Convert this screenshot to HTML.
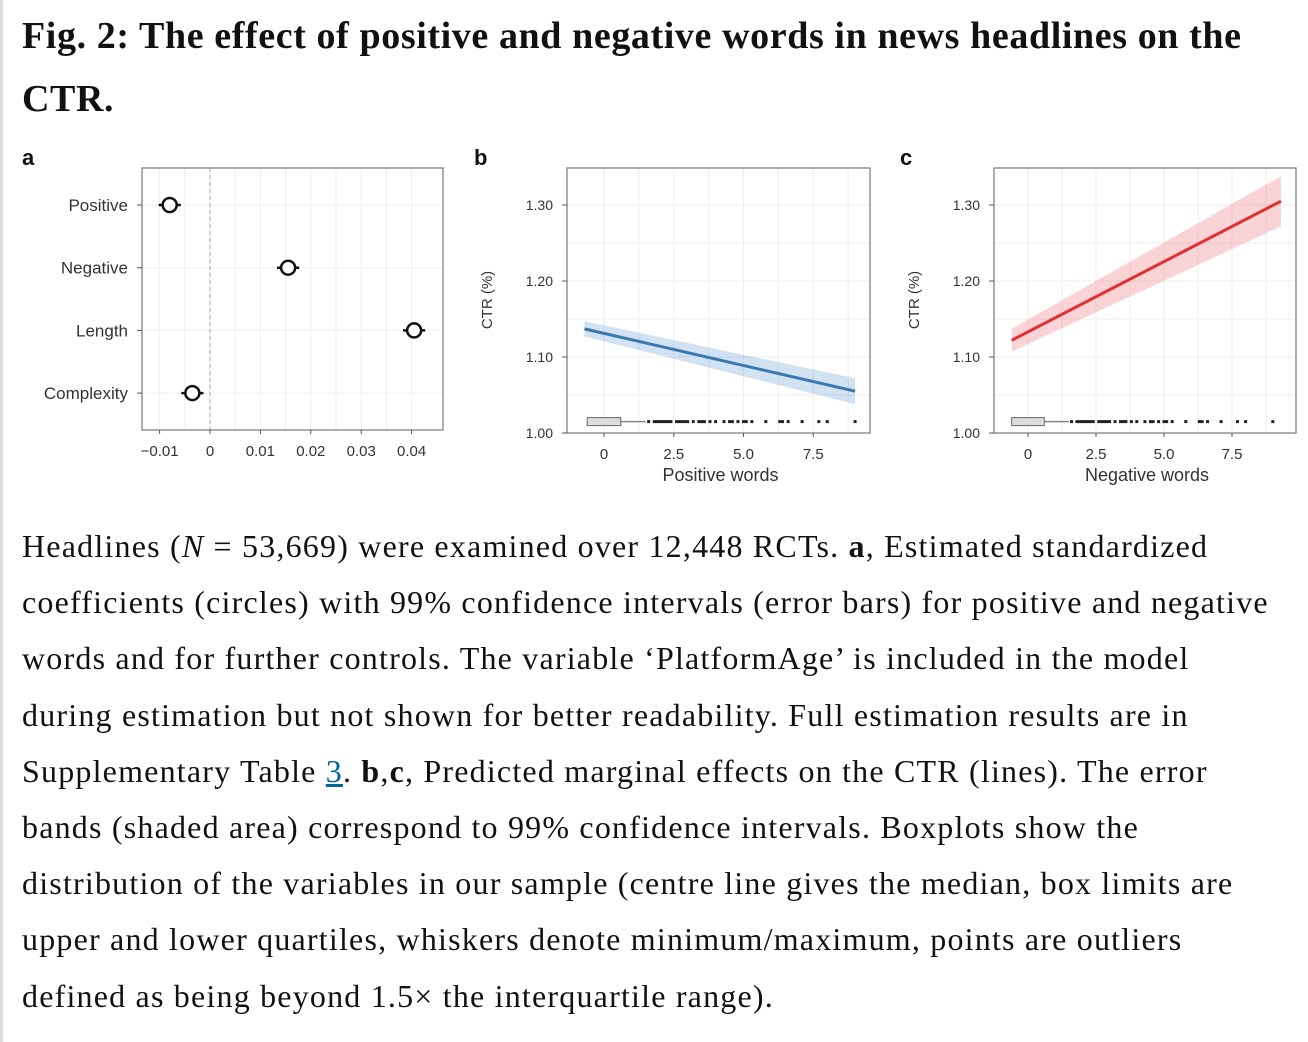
<!DOCTYPE html>
<html><head><meta charset="utf-8"><style>
body{margin:0;width:1308px;height:1042px;background:#fff;overflow:hidden;position:relative;font-family:"Liberation Serif",serif;color:#111}
#lb{position:absolute;left:0;top:0;width:3px;height:1042px;background:#ddd}
h1{position:absolute;left:22px;top:5px;margin:0;font-size:38px;line-height:63px;font-weight:bold;letter-spacing:0.6px;white-space:nowrap}
#cap{position:absolute;left:22px;top:518px;margin:0;font-size:32px;line-height:56.2px;white-space:nowrap;letter-spacing:1.2px}
#cap a{color:#069;text-decoration:underline}
svg{position:absolute;left:0;top:140px}
svg text{font-family:"Liberation Sans",sans-serif;fill:#333}
</style></head><body>
<div id="lb"></div>
<h1>Fig. 2: The effect of positive and negative words in news headlines on the<br>CTR.</h1>
<p id="cap">Headlines (<i>N</i> = 53,669) were examined over 12,448 RCTs. <b>a</b>, Estimated standardized<br>coefficients (circles) with 99% confidence intervals (error bars) for positive and negative<br>words and for further controls. The variable ‘PlatformAge’ is included in the model<br>during estimation but not shown for better readability. Full estimation results are in<br>Supplementary Table <a>3</a>. <b>b</b>,<b>c</b>, Predicted marginal effects on the CTR (lines). The error<br>bands (shaded area) correspond to 99% confidence intervals. Boxplots show the<br>distribution of the variables in our sample (centre line gives the median, box limits are<br>upper and lower quartiles, whiskers denote minimum/maximum, points are outliers<br>defined as being beyond 1.5× the interquartile range).</p>
<svg id="fig" width="1308" height="360"></svg>
<script>
// Panel a data
const coefLabels=["Positive","Negative","Length","Complexity"];
const coefValues=[-0.008,0.0155,0.0405,-0.0035];
const coefErr=[0.0022,0.0022,0.0022,0.0022];
const coefTicks=[-0.01,0,0.01,0.02,0.03,0.04];
const coefTickLabels=["−0.01","0","0.01","0.02","0.03","0.04"];
// Panel b data
const posX=[-0.7,9];
const posY=[1.137,1.055];
const posLo=[1.127,1.038];
const posHi=[1.147,1.072];
// Panel c data
const negX=[-0.6,9.3];
const negY=[1.122,1.305];
const negLo=[1.107,1.272];
const negHi=[1.137,1.338];
const ctrTicks=[1.00,1.10,1.20,1.30];
const ctrTickLabels=["1.00","1.10","1.20","1.30"];
const wordTicks=[0,2.5,5.0,7.5];
const wordTickLabels=["0","2.5","5.0","7.5"];
const outliers=[1.6,1.8,1.9,2.0,2.1,2.2,2.3,2.4,2.6,2.7,2.8,2.9,3.0,3.2,3.4,3.5,3.6,3.8,4.0,4.3,4.5,4.6,4.8,5.0,5.1,5.3,5.8,6.3,6.4,6.6,7.1,7.7,8.0,9.0];
const boxStats=[-0.6,-0.6,0.6,1.5];

const svg=document.getElementById('fig');
const NS='http://www.w3.org/2000/svg';
function mk(t,a,p){const e=document.createElementNS(NS,t);for(const k in a)e.setAttribute(k,a[k]);(p||svg).appendChild(e);return e;}
const T=140;

(function(){
  const x0=142,x1=443,y0=168-T,y1=430-T;
  const sx=v=>210+v*5040;
  const rowY=i=>205-T+i*62.7;
  const g=mk('g',{});
  const lab=mk('text',{x:22,y:165-T,'font-size':22,'font-weight':'bold',style:'fill:#111'},g);lab.textContent='a';
  [-0.005,0.005,0.015,0.025,0.035].concat(coefTicks).forEach(v=>mk('line',{x1:sx(v),x2:sx(v),y1:y0,y2:y1,stroke:'#eee','stroke-width':1},g));
  coefLabels.forEach((l,i)=>mk('line',{x1:x0,x2:x1,y1:rowY(i),y2:rowY(i),stroke:'#eee'},g));
  mk('line',{x1:sx(0),x2:sx(0),y1:y0,y2:y1,stroke:'#aaa','stroke-dasharray':'4,3'},g);
  const fr=mk('rect',{x:x0,y:y0,width:x1-x0,height:y1-y0,fill:'none',stroke:'#777','stroke-width':1.2},g);
  
  coefTicks.forEach((v,i)=>{mk('line',{x1:sx(v),x2:sx(v),y1:y1,y2:y1+4,stroke:'#555'},g);
    const t=mk('text',{x:sx(v),y:y1+26,'font-size':15,'text-anchor':'middle'},g);t.textContent=coefTickLabels[i];
    });
  coefLabels.forEach((l,i)=>{const y=rowY(i);
    mk('line',{x1:x0-5,x2:x0,y1:y,y2:y,stroke:'#555'},g);
    const t=mk('text',{x:x0-14,y:y+6,'font-size':17,'text-anchor':'end'},g);t.textContent=l;
    
    mk('line',{x1:sx(coefValues[i]-coefErr[i]),x2:sx(coefValues[i]+coefErr[i]),y1:y,y2:y,stroke:'#111','stroke-width':2.5},g);
    const c=mk('circle',{cx:sx(coefValues[i]),cy:y,r:7,fill:'#fff',stroke:'#111','stroke-width':2.5},g);
    });
})();

function linePanel(name,lab,labX,x0,x1,zeroX,pxPer,xs,ys,lo,hi,col,band,xlabel){
  const y0=168-T,y1=433-T;
  const sy=v=>433-T-(v-1.0)*760;
  const sx=v=>zeroX+v*pxPer;
  const g=mk('g',{});
  const l=mk('text',{x:labX,y:165-T,'font-size':22,'font-weight':'bold',style:'fill:#111'},g);l.textContent=lab;
  [1.05,1.15,1.25,1.35].concat(ctrTicks).forEach(v=>{if(sy(v)>y0)mk('line',{x1:x0,x2:x1,y1:sy(v),y2:sy(v),stroke:'#eee'},g);});
  [1.25,3.75,6.25,8.75].concat(wordTicks).forEach(v=>{if(sx(v)<x1)mk('line',{x1:sx(v),x2:sx(v),y1:y0,y2:y1,stroke:'#eee'},g);});
  const fr=mk('rect',{x:x0,y:y0,width:x1-x0,height:y1-y0,fill:'none',stroke:'#777','stroke-width':1.2},g);
  
  ctrTicks.forEach((v,i)=>{mk('line',{x1:x0-5,x2:x0,y1:sy(v),y2:sy(v),stroke:'#555'},g);
    const t=mk('text',{x:x0-14,y:sy(v)+5,'font-size':14,'text-anchor':'end'},g);t.textContent=ctrTickLabels[i];
    });
  wordTicks.forEach((v,i)=>{mk('line',{x1:sx(v),x2:sx(v),y1:y1,y2:y1+4,stroke:'#555'},g);
    const t=mk('text',{x:sx(v),y:y1+26,'font-size':15,'text-anchor':'middle'},g);t.textContent=wordTickLabels[i];
    });
  const yt=mk('text',{x:0,y:0,'font-size':15,'text-anchor':'middle',transform:`translate(${x0-75},${300-T}) rotate(-90)`},g);yt.textContent='CTR (%)';
  
  const xt=mk('text',{x:(x0+x1)/2+2,y:y1+48,'font-size':18,'text-anchor':'middle'},g);xt.textContent=xlabel;
  
  const b=mk('polygon',{points:`${sx(xs[0])},${sy(lo[0])} ${sx(xs[1])},${sy(lo[1])} ${sx(xs[1])},${sy(hi[1])} ${sx(xs[0])},${sy(hi[0])}`,fill:band},g);
  
  const ln=mk('line',{x1:sx(xs[0]),y1:sy(ys[0]),x2:sx(xs[1]),y2:sy(ys[1]),stroke:col,'stroke-width':3},g);
  
  const by=sy(1.015);
  mk('line',{x1:sx(boxStats[2]),x2:sx(boxStats[3]),y1:by,y2:by,stroke:'#888','stroke-width':1.5},g);
  const bx=mk('rect',{x:sx(boxStats[0]),y:by-4,width:sx(boxStats[2])-sx(boxStats[0]),height:8,fill:'#ddd',stroke:'#666','stroke-width':1},g);
  
  outliers.forEach(v=>mk('rect',{x:sx(v)-1.5,y:by-1.5,width:3,height:3,fill:'#222'},g));
}
linePanel('panel-b','b',474,567,870,604,27.9,posX,posY,posLo,posHi,'#3a78b0','rgba(90,150,210,0.28)','Positive words');
linePanel('panel-c','c',900,994,1296,1028,27.2,negX,negY,negLo,negHi,'#e03030','rgba(240,110,120,0.3)','Negative words');
</script>
</body></html>
